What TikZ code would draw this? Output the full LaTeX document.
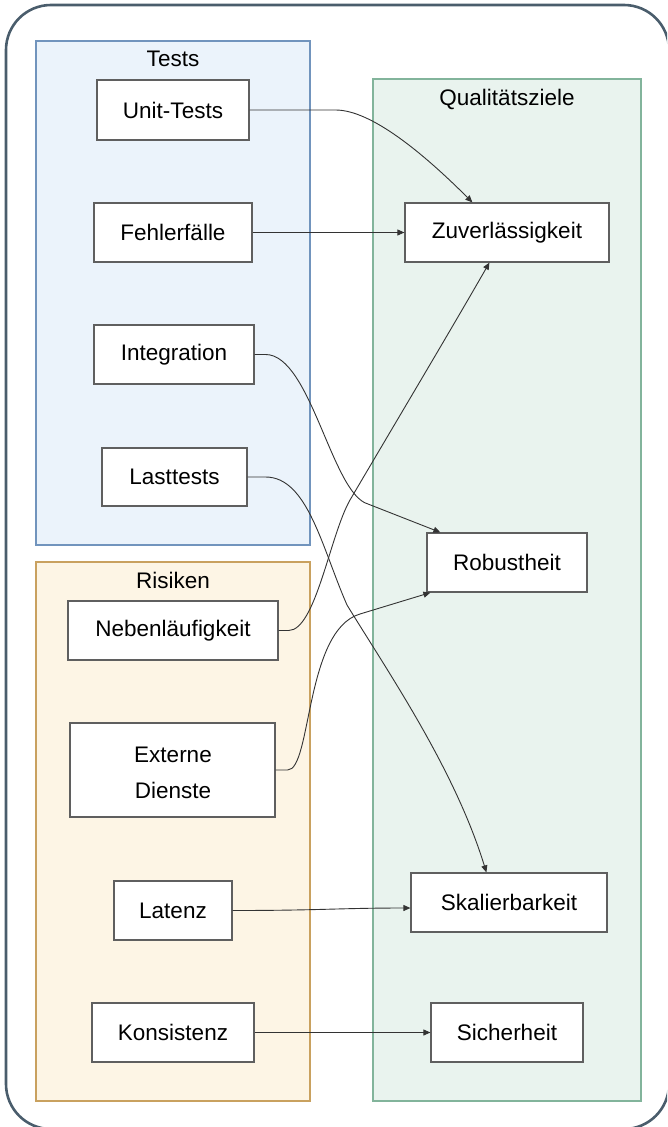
\documentclass[tikz,border=0pt]{standalone}
\usepackage{fontspec}
\setmainfont{Liberation Sans}
\usetikzlibrary{arrows.meta,calc}

\definecolor{frameline}{HTML}{4A5D6C}
\definecolor{testfill}{HTML}{EBF3FB}
\definecolor{teststroke}{HTML}{7194BD}
\definecolor{riskfill}{HTML}{FDF5E5}
\definecolor{riskstroke}{HTML}{C9A15F}
\definecolor{goalfill}{HTML}{E9F3EE}
\definecolor{goalstroke}{HTML}{82B49B}
\definecolor{boxstroke}{HTML}{5F5F5F}
\definecolor{edgeline}{HTML}{333333}

\begin{document}
\begin{tikzpicture}[x=1pt,y=-1pt,
  font=\fontsize{22.5}{27}\selectfont,
  group/.style={line width=1.6pt},
  grouptitle/.style={inner sep=0pt, anchor=center},
  item/.style={draw=boxstroke, fill=white, line width=1.2pt, inner sep=0pt, align=center},
  link/.style={draw=edgeline, line width=0.9pt, -{Triangle[length=7pt,width=6pt]}}]

\useasboundingbox (0,0) rectangle (667,1127);
\clip (0,0) rectangle (667,1127);

% outer frame
\draw[frameline, line width=2.6pt, rounded corners=45pt] (6,5) rectangle (669,1129);

% groups
\draw[group, draw=teststroke, fill=testfill] (36,41) rectangle (310,545);
\draw[group, draw=riskstroke, fill=riskfill] (36,562) rectangle (310,1101);
\draw[group, draw=goalstroke, fill=goalfill] (373,79) rectangle (641,1101);

\node[grouptitle] (tTests) at (173,59) {Tests};
\node[grouptitle] (tRisk) at (173,580) {Risiken};
\node[grouptitle] (tGoals) at (507,99) {Qualitätsziele};

% tests
\node[item, minimum width=152, minimum height=60] (ut) at (173,110) {Unit-Tests};
\node[item, minimum width=158, minimum height=59] (ff) at (173,232.5) {Fehlerfälle};
\node[item, minimum width=160, minimum height=59] (in) at (174,354.5) {Integration};
\node[item, minimum width=145, minimum height=58] (lt) at (174.5,477) {Lasttests};

% risks
\node[item, minimum width=210, minimum height=59] (nl) at (173,630.5) {Nebenläufigkeit};
\node[item, minimum width=205, minimum height=94] (ed) at (172.5,770) {};
\node[inner sep=0pt, align=center] (edtext) at (173,772.5) {Externe\\[9pt]Dienste};
\node[item, minimum width=118, minimum height=59] (la) at (173,910.5) {Latenz};
\node[item, minimum width=162, minimum height=59] (ko) at (173,1032.5) {Konsistenz};

% quality goals
\node[item, minimum width=204, minimum height=59] (zu) at (507,232.5) {Zuverlässigkeit};
\node[item, minimum width=160, minimum height=59] (ro) at (507,562.5) {Robustheit};
\node[item, minimum width=196, minimum height=59] (sk) at (509,902.5) {Skalierbarkeit};
\node[item, minimum width=152, minimum height=59] (si) at (507,1032.5) {Sicherheit};

% connectors
\draw[link] (ut.east) -- ++(86,0) .. controls +(35,0) and (422,152) .. ($(zu.north west)+(68,0)$);
\draw[link] (ff.east) -- (zu.west);
\draw[link] (in.east) -- ++(11,0) .. controls +(45,0) and (332,494) .. (368,504) -- ($(ro.north west)+(14,0)$);
\draw[link] (lt.east) -- ++(18,0) .. controls +(42,0) and (322,548) .. (347,605) .. controls (390,675) and (455,770) .. ($(sk.north west)+(76,0)$);
\draw[link] (nl.east) -- ++(10,0) .. controls +(27,0) and (330,535) .. (350,500) .. controls (390,432) and (452,328) .. ($(zu.south west)+(85,0)$);
\draw[link] (ed.east) -- ++(12,0) .. controls +(24,0) and (305,630) .. (360,614) -- ($(ro.south west)+(4,0)$);
\draw[link] (la.east) .. controls (320,910.5) and (340,908) .. ($(sk.west)+(0,5.5)$);
\draw[link] (ko.east) -- (si.west);

\end{tikzpicture}
\end{document}
